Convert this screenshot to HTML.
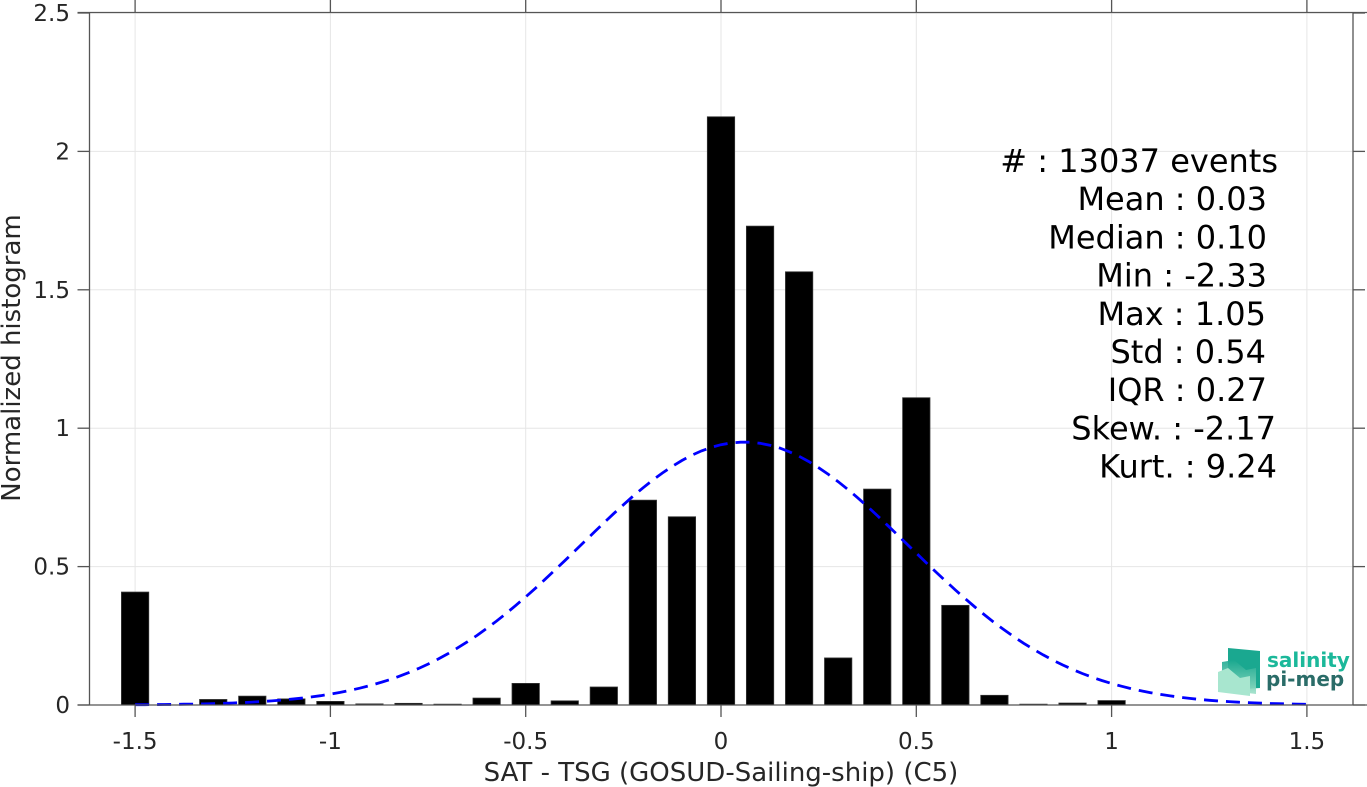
<!DOCTYPE html>
<html><head><meta charset="utf-8"><style>
html,body{margin:0;padding:0;background:#fff;}
svg{display:block;font-family:"DejaVu Sans","Liberation Sans",sans-serif;}
</style></head><body>
<svg id="chart" width="1367" height="787" viewBox="0 0 1367 787">
<g id="grid"></g>
<g id="bars"></g>
<path id="fit" fill="none" stroke="#0000ff" stroke-width="2.8" stroke-dasharray="14,8"/>
<g id="axes"></g>
<g id="stats" font-size="32" fill="#000" text-anchor="end" style="white-space:pre"></g>
<g>
  <defs><linearGradient id="lg" x1="0" y1="0" x2="0" y2="1"><stop offset="0" stop-color="#1aa88f"/><stop offset="1" stop-color="#9fe0c8"/></linearGradient></defs>
  <polygon points="1228,648 1260,651 1260,688 1228,690" fill="#1aa890"/>
  <polygon points="1222,662 1234,660 1246,670 1256,668 1256,694 1222,690" fill="url(#lg)" opacity="0.9"/>
  <polygon points="1218,672 1228,668 1240,678 1250,676 1250,696 1218,692" fill="#a8e6cf"/>
  <text x="1267" y="667" font-size="20" font-weight="bold" fill="#1bb89a">salinity</text>
  <text x="1266" y="686" font-size="20" font-weight="bold" fill="#2a6c68">pi-mep</text>
</g>
<text x="721" y="781" font-size="26" text-anchor="middle" fill="#262626">SAT - TSG (GOSUD-Sailing-ship) (C5)</text>
<text transform="translate(20,358) rotate(-90)" font-size="26" text-anchor="middle" fill="#262626">Normalized histogram</text>
</svg>
<script>
const binCenters=[-1.5,-1.4,-1.3,-1.2,-1.1,-1.0,-0.9,-0.8,-0.7,-0.6,-0.5,-0.4,-0.3,-0.2,-0.1,0,0.1,0.2,0.3,0.4,0.5,0.6,0.7,0.8,0.9,1.0];
const binValues=[0.408,0,0.02,0.032,0.022,0.013,0.004,0.006,0.003,0.025,0.078,0.015,0.065,0.74,0.68,2.125,1.73,1.565,0.17,0.78,1.11,0.36,0.035,0.003,0.007,0.016];
const fitMean=[0.06];
const fitStd=[0.42];
const xTicks=[-1.5,-1,-0.5,0,0.5,1,1.5];
const xTickLabels=["-1.5","-1","-0.5","0","0.5","1","1.5"];
const yTicks=[0,0.5,1,1.5,2,2.5];
const yTickLabels=["0","0.5","1","1.5","2","2.5"];
const statLines=["#  : 13037 events","Mean : 0.03","Median : 0.10","Min : -2.33","Max : 1.05","Std : 0.54","IQR : 0.27","Skew. : -2.17","Kurt. : 9.24"];
const statRight=[1278,1267,1267,1267,1266,1266,1267,1276,1277];

const NS="http://www.w3.org/2000/svg";
const X=v=>721+v*390.6;
const Y=v=>705-v*276.8;
const L=89.5,R=1353,T=12.5,B=705;
function mk(t,a,p){const e=document.createElementNS(NS,t);for(const k in a)e.setAttribute(k,a[k]);p.appendChild(e);return e;}
const grid=document.getElementById('grid'),axes=document.getElementById('axes'),bars=document.getElementById('bars'),stats=document.getElementById('stats');
xTicks.forEach((v,i)=>{
  const g=mk('line',{x1:X(v),x2:X(v),y1:T,y2:B,stroke:'#e6e6e6','stroke-width':1},grid);
  
  
  mk('line',{x1:X(v),x2:X(v),y1:B,y2:B+12,stroke:'#555','stroke-width':1.3},axes);
  mk('line',{x1:X(v),x2:X(v),y1:0,y2:T,stroke:'#555','stroke-width':1.3},axes);
  const t=mk('text',{x:X(v),y:749,'font-size':23,'text-anchor':'middle',fill:'#262626'},axes);
  t.textContent=xTickLabels[i];
  
  
});
yTicks.forEach((v,i)=>{
  const g=mk('line',{x1:L,x2:R,y1:Y(v),y2:Y(v),stroke:'#e6e6e6','stroke-width':1},grid);
  
  
  mk('line',{x1:L-12,x2:L,y1:Y(v),y2:Y(v),stroke:'#555','stroke-width':1.3},axes);
  mk('line',{x1:R,x2:R+12,y1:Y(v),y2:Y(v),stroke:'#555','stroke-width':1.3},axes);
  const t=mk('text',{x:70,y:Y(v)+8,'font-size':23,'text-anchor':'end',fill:'#262626'},axes);
  t.textContent=yTickLabels[i];
  
  
});
mk('line',{x1:L,x2:L,y1:T,y2:B,stroke:'#555','stroke-width':1.3},axes);
mk('line',{x1:R,x2:R,y1:T,y2:B,stroke:'#555','stroke-width':1.3},axes);
mk('line',{x1:L-12,x2:1367,y1:B,y2:B,stroke:'#555','stroke-width':1.3},axes);
mk('line',{x1:L-12,x2:1367,y1:T,y2:T,stroke:'#555','stroke-width':1.3},axes);
binCenters.forEach((c,i)=>{
  const v=binValues[i]; if(v<=0)return;
  const w=0.07*390.6;
  const r=mk('rect',{x:X(c)-w/2,y:Y(v),width:w,height:B-Y(v),fill:'#000',stroke:'#333','stroke-width':0.8},bars);
  
  
});
let d='';
for(let k=0;k<=120;k++){
  const x=-1.5+3*k/120, s=fitStd[0], m=fitMean[0];
  const y=Math.exp(-0.5*((x-m)/s)**2)/(s*Math.sqrt(2*Math.PI));
  d+=(k?'L':'M')+X(x).toFixed(1)+','+Y(y).toFixed(1);
}
document.getElementById('fit').setAttribute('d',d);
statLines.forEach((s,i)=>{
  const t=mk('text',{x:statRight[i],y:172+i*38.2},stats);
  t.textContent=s;
  
  
});
</script>
</body></html>
